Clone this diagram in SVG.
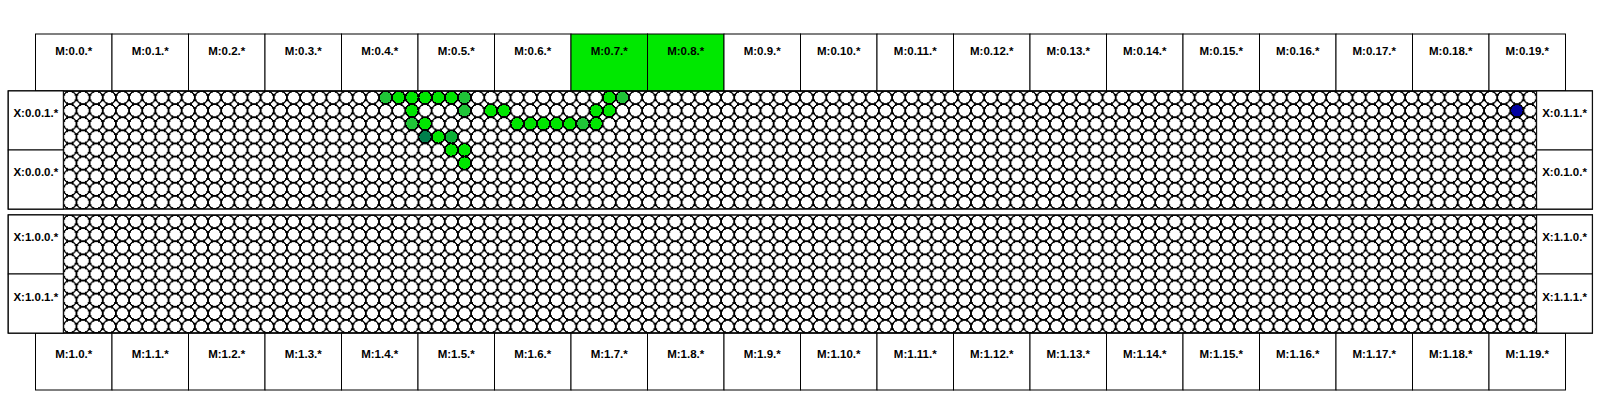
<svg xmlns="http://www.w3.org/2000/svg" width="1600" height="400" viewBox="0 0 1600 400">
<style>
.box{fill:#fff;stroke:#000;stroke-width:1}
.on{fill:#00e800}
.lbl{font-family:"Liberation Sans",Arial,sans-serif;font-weight:bold;font-size:11.5px;fill:#000;text-anchor:middle}
.panel{fill:none;stroke:#000;stroke-width:1.5}
.c{stroke:#000;stroke-width:1.3;shape-rendering:crispEdges}
.g1{fill:#00e600}
.g2{fill:#20c438}
.g3{fill:#007f4c}
.g4{fill:#0cb036}
.b1{fill:#0000a0}
</style>
<defs>
<pattern id="p0" x="63.3" y="91" width="13.155" height="13.111" patternUnits="userSpaceOnUse">
<circle cx="6.5775" cy="6.5555" r="6.35" fill="#fff" stroke="#000" stroke-width="1.4" shape-rendering="crispEdges"/>
</pattern>
<pattern id="p1" x="63.3" y="215" width="13.155" height="13.111" patternUnits="userSpaceOnUse">
<circle cx="6.5775" cy="6.5555" r="6.35" fill="#fff" stroke="#000" stroke-width="1.4" shape-rendering="crispEdges"/>
</pattern>
</defs>
<rect width="1600" height="400" fill="#fff"/>

<g id="top-memory">
<g id="M-0-0"><rect class="box" x="35.5" y="34" width="76.5" height="57"/><text class="lbl" x="73.75" y="55">M:0.0.*</text></g>
<g id="M-0-1"><rect class="box" x="112" y="34" width="76.5" height="57"/><text class="lbl" x="150.25" y="55">M:0.1.*</text></g>
<g id="M-0-2"><rect class="box" x="188.5" y="34" width="76.5" height="57"/><text class="lbl" x="226.75" y="55">M:0.2.*</text></g>
<g id="M-0-3"><rect class="box" x="265" y="34" width="76.5" height="57"/><text class="lbl" x="303.25" y="55">M:0.3.*</text></g>
<g id="M-0-4"><rect class="box" x="341.5" y="34" width="76.5" height="57"/><text class="lbl" x="379.75" y="55">M:0.4.*</text></g>
<g id="M-0-5"><rect class="box" x="418" y="34" width="76.5" height="57"/><text class="lbl" x="456.25" y="55">M:0.5.*</text></g>
<g id="M-0-6"><rect class="box" x="494.5" y="34" width="76.5" height="57"/><text class="lbl" x="532.75" y="55">M:0.6.*</text></g>
<g id="M-0-7"><rect class="box on" x="571" y="34" width="76.5" height="57"/><text class="lbl" x="609.25" y="55">M:0.7.*</text></g>
<g id="M-0-8"><rect class="box on" x="647.5" y="34" width="76.5" height="57"/><text class="lbl" x="685.75" y="55">M:0.8.*</text></g>
<g id="M-0-9"><rect class="box" x="724" y="34" width="76.5" height="57"/><text class="lbl" x="762.25" y="55">M:0.9.*</text></g>
<g id="M-0-10"><rect class="box" x="800.5" y="34" width="76.5" height="57"/><text class="lbl" x="838.75" y="55">M:0.10.*</text></g>
<g id="M-0-11"><rect class="box" x="877" y="34" width="76.5" height="57"/><text class="lbl" x="915.25" y="55">M:0.11.*</text></g>
<g id="M-0-12"><rect class="box" x="953.5" y="34" width="76.5" height="57"/><text class="lbl" x="991.75" y="55">M:0.12.*</text></g>
<g id="M-0-13"><rect class="box" x="1030" y="34" width="76.5" height="57"/><text class="lbl" x="1068.25" y="55">M:0.13.*</text></g>
<g id="M-0-14"><rect class="box" x="1106.5" y="34" width="76.5" height="57"/><text class="lbl" x="1144.75" y="55">M:0.14.*</text></g>
<g id="M-0-15"><rect class="box" x="1183" y="34" width="76.5" height="57"/><text class="lbl" x="1221.25" y="55">M:0.15.*</text></g>
<g id="M-0-16"><rect class="box" x="1259.5" y="34" width="76.5" height="57"/><text class="lbl" x="1297.75" y="55">M:0.16.*</text></g>
<g id="M-0-17"><rect class="box" x="1336" y="34" width="76.5" height="57"/><text class="lbl" x="1374.25" y="55">M:0.17.*</text></g>
<g id="M-0-18"><rect class="box" x="1412.5" y="34" width="76.5" height="57"/><text class="lbl" x="1450.75" y="55">M:0.18.*</text></g>
<g id="M-0-19"><rect class="box" x="1489" y="34" width="76.5" height="57"/><text class="lbl" x="1527.25" y="55">M:0.19.*</text></g>
</g>

<g id="bottom-memory">
<g id="M-1-0"><rect class="box" x="35.5" y="333" width="76.5" height="57"/><text class="lbl" x="73.75" y="357.5">M:1.0.*</text></g>
<g id="M-1-1"><rect class="box" x="112" y="333" width="76.5" height="57"/><text class="lbl" x="150.25" y="357.5">M:1.1.*</text></g>
<g id="M-1-2"><rect class="box" x="188.5" y="333" width="76.5" height="57"/><text class="lbl" x="226.75" y="357.5">M:1.2.*</text></g>
<g id="M-1-3"><rect class="box" x="265" y="333" width="76.5" height="57"/><text class="lbl" x="303.25" y="357.5">M:1.3.*</text></g>
<g id="M-1-4"><rect class="box" x="341.5" y="333" width="76.5" height="57"/><text class="lbl" x="379.75" y="357.5">M:1.4.*</text></g>
<g id="M-1-5"><rect class="box" x="418" y="333" width="76.5" height="57"/><text class="lbl" x="456.25" y="357.5">M:1.5.*</text></g>
<g id="M-1-6"><rect class="box" x="494.5" y="333" width="76.5" height="57"/><text class="lbl" x="532.75" y="357.5">M:1.6.*</text></g>
<g id="M-1-7"><rect class="box" x="571" y="333" width="76.5" height="57"/><text class="lbl" x="609.25" y="357.5">M:1.7.*</text></g>
<g id="M-1-8"><rect class="box" x="647.5" y="333" width="76.5" height="57"/><text class="lbl" x="685.75" y="357.5">M:1.8.*</text></g>
<g id="M-1-9"><rect class="box" x="724" y="333" width="76.5" height="57"/><text class="lbl" x="762.25" y="357.5">M:1.9.*</text></g>
<g id="M-1-10"><rect class="box" x="800.5" y="333" width="76.5" height="57"/><text class="lbl" x="838.75" y="357.5">M:1.10.*</text></g>
<g id="M-1-11"><rect class="box" x="877" y="333" width="76.5" height="57"/><text class="lbl" x="915.25" y="357.5">M:1.11.*</text></g>
<g id="M-1-12"><rect class="box" x="953.5" y="333" width="76.5" height="57"/><text class="lbl" x="991.75" y="357.5">M:1.12.*</text></g>
<g id="M-1-13"><rect class="box" x="1030" y="333" width="76.5" height="57"/><text class="lbl" x="1068.25" y="357.5">M:1.13.*</text></g>
<g id="M-1-14"><rect class="box" x="1106.5" y="333" width="76.5" height="57"/><text class="lbl" x="1144.75" y="357.5">M:1.14.*</text></g>
<g id="M-1-15"><rect class="box" x="1183" y="333" width="76.5" height="57"/><text class="lbl" x="1221.25" y="357.5">M:1.15.*</text></g>
<g id="M-1-16"><rect class="box" x="1259.5" y="333" width="76.5" height="57"/><text class="lbl" x="1297.75" y="357.5">M:1.16.*</text></g>
<g id="M-1-17"><rect class="box" x="1336" y="333" width="76.5" height="57"/><text class="lbl" x="1374.25" y="357.5">M:1.17.*</text></g>
<g id="M-1-18"><rect class="box" x="1412.5" y="333" width="76.5" height="57"/><text class="lbl" x="1450.75" y="357.5">M:1.18.*</text></g>
<g id="M-1-19"><rect class="box" x="1489" y="333" width="76.5" height="57"/><text class="lbl" x="1527.25" y="357.5">M:1.19.*</text></g>
</g>

<g id="grid-0">
<rect x="63.3" y="91" width="1473.36" height="118" fill="url(#p0)"/>
</g>
<g id="grid-1">
<rect x="63.3" y="215" width="1473.36" height="118" fill="url(#p1)"/>
</g>

<g id="active-cells">
<circle class="c g2" cx="385.60" cy="97.56" r="6.35"/>
<circle class="c g1" cx="398.75" cy="97.56" r="6.35"/>
<circle class="c g1" cx="411.91" cy="97.56" r="6.35"/>
<circle class="c g1" cx="425.06" cy="97.56" r="6.35"/>
<circle class="c g1" cx="438.22" cy="97.56" r="6.35"/>
<circle class="c g1" cx="451.37" cy="97.56" r="6.35"/>
<circle class="c g2" cx="464.53" cy="97.56" r="6.35"/>
<circle class="c g1" cx="609.23" cy="97.56" r="6.35"/>
<circle class="c g2" cx="622.39" cy="97.56" r="6.35"/>

<circle class="c g1" cx="411.91" cy="110.67" r="6.35"/>
<circle class="c g2" cx="464.53" cy="110.67" r="6.35"/>
<circle class="c g1" cx="490.84" cy="110.67" r="6.35"/>
<circle class="c g1" cx="503.99" cy="110.67" r="6.35"/>
<circle class="c g1" cx="596.08" cy="110.67" r="6.35"/>
<circle class="c g1" cx="609.23" cy="110.67" r="6.35"/>
<circle class="c b1" cx="1516.93" cy="110.67" r="6.35"/>

<circle class="c g2" cx="411.91" cy="123.78" r="6.35"/>
<circle class="c g1" cx="425.06" cy="123.78" r="6.35"/>
<circle class="c g1" cx="517.15" cy="123.78" r="6.35"/>
<circle class="c g1" cx="530.30" cy="123.78" r="6.35"/>
<circle class="c g1" cx="543.46" cy="123.78" r="6.35"/>
<circle class="c g1" cx="556.61" cy="123.78" r="6.35"/>
<circle class="c g1" cx="569.77" cy="123.78" r="6.35"/>
<circle class="c g2" cx="582.92" cy="123.78" r="6.35"/>
<circle class="c g1" cx="596.08" cy="123.78" r="6.35"/>

<circle class="c g3" cx="425.06" cy="136.89" r="6.35"/>
<circle class="c g1" cx="438.22" cy="136.89" r="6.35"/>
<circle class="c g4" cx="451.37" cy="136.89" r="6.35"/>

<circle class="c g1" cx="451.37" cy="150.00" r="6.35"/>
<circle class="c g1" cx="464.53" cy="150.00" r="6.35"/>

<circle class="c g1" cx="464.53" cy="163.11" r="6.35"/>
</g>

<g id="panel-0">
<rect class="panel" x="8.3" y="91" width="1584" height="118"/>
<line x1="63.3" y1="91" x2="63.3" y2="209" stroke="#000" stroke-width="1"/>
<line x1="1536.66" y1="91" x2="1536.66" y2="209" stroke="#000" stroke-width="1"/>
</g>
<g id="panel-1">
<rect class="panel" x="8.3" y="215" width="1584" height="118"/>
<line x1="63.3" y1="215" x2="63.3" y2="333" stroke="#000" stroke-width="1"/>
<line x1="1536.66" y1="215" x2="1536.66" y2="333" stroke="#000" stroke-width="1"/>
</g>

<g id="X-0-0-1"><rect class="box" x="8.3" y="91" width="55" height="59"/><text class="lbl" x="35.8" y="116.5">X:0.0.1.*</text></g>
<g id="X-0-0-0"><rect class="box" x="8.3" y="150" width="55" height="59"/><text class="lbl" x="35.8" y="176">X:0.0.0.*</text></g>
<g id="X-0-1-1"><rect class="box" x="1536.66" y="91" width="55.64" height="59"/><text class="lbl" x="1564.5" y="116.5">X:0.1.1.*</text></g>
<g id="X-0-1-0"><rect class="box" x="1536.66" y="150" width="55.64" height="59"/><text class="lbl" x="1564.5" y="176">X:0.1.0.*</text></g>
<g id="X-1-0-0"><rect class="box" x="8.3" y="215" width="55" height="59"/><text class="lbl" x="35.8" y="241">X:1.0.0.*</text></g>
<g id="X-1-0-1"><rect class="box" x="8.3" y="274" width="55" height="59"/><text class="lbl" x="35.8" y="301">X:1.0.1.*</text></g>
<g id="X-1-1-0"><rect class="box" x="1536.66" y="215" width="55.64" height="59"/><text class="lbl" x="1564.5" y="241">X:1.1.0.*</text></g>
<g id="X-1-1-1"><rect class="box" x="1536.66" y="274" width="55.64" height="59"/><text class="lbl" x="1564.5" y="301">X:1.1.1.*</text></g>
</svg>
